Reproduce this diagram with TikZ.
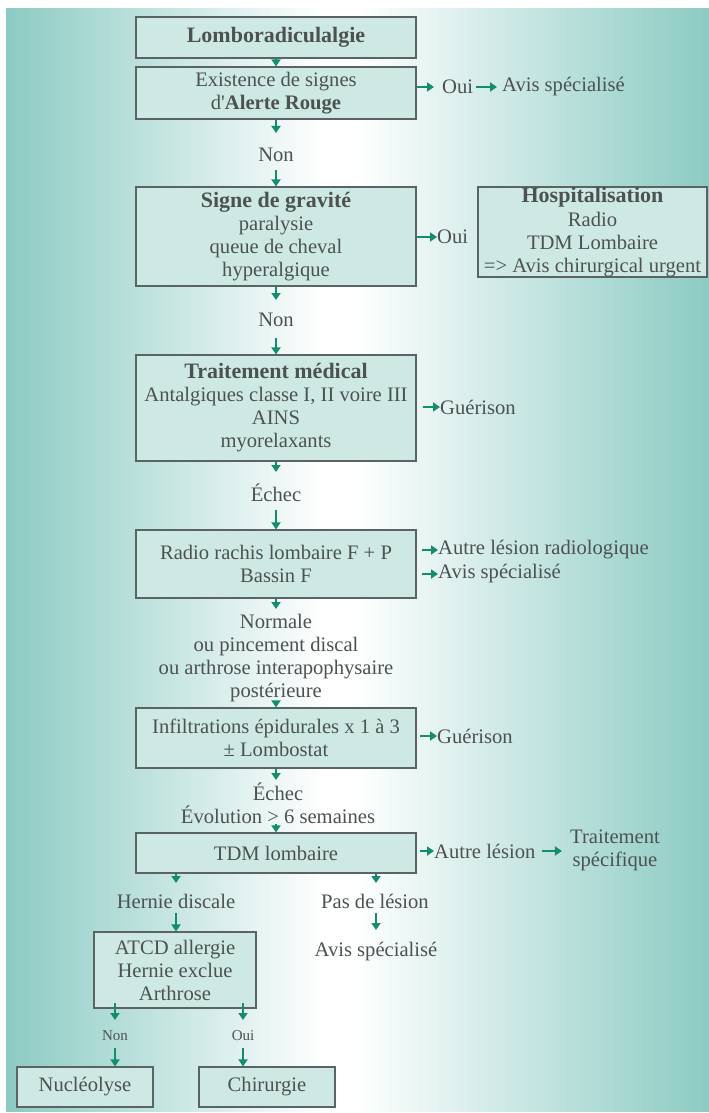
\documentclass[tikz,border=0pt]{standalone}
\usepackage{fontspec}
\setmainfont{Liberation Serif}
\usetikzlibrary{arrows.meta}
\definecolor{bgteal}{RGB}{140,203,195}
\definecolor{boxfill}{RGB}{206,233,228}
\definecolor{boxline}{RGB}{90,100,100}
\definecolor{txt}{RGB}{75,82,81}
\definecolor{arrowc}{RGB}{20,140,110}
\newcommand\bhead[1]{{\fontsize{22}{23}\selectfont\bfseries #1}}
\begin{document}
\begin{tikzpicture}[x=1pt,y=-1pt,
  box/.style={draw=boxline, line width=1.1pt, fill=boxfill, minimum width=280pt, inner sep=0pt, align=center, text=txt, font=\fontsize{20.6}{23}\selectfont},
  lbl/.style={inner sep=0pt, align=center, text=txt, font=\fontsize{20.6}{23}\selectfont},
  small/.style={lbl, font=\fontsize{15}{17}\selectfont},
  arr/.style={draw=arrowc, line width=2.2pt, -{Triangle[length=7pt,width=9pt]}}
  ]
\useasboundingbox (0,0) rectangle (709,1113);
\shade[left color=bgteal, right color=white] (6,9) rectangle (325,1111);
\fill[white] (324,9) rectangle (356,1111);
\shade[left color=white, right color=bgteal] (355,9) rectangle (709,1111);

% boxes
\node[box, minimum height=41pt] (b1) at (276,37.5) {\bhead{Lomboradiculalgie}};
\node[box, minimum height=52pt] (b2) at (276,93) {Existence de signes\\d\textquotesingle\textbf{Alerte Rouge}};
\node[box, minimum height=99pt] (b3) at (276,236.5) {\bhead{Signe de gravité}\\paralysie\\queue de cheval\\hyperalgique};
\node[box, minimum width=229pt, minimum height=90pt] (hosp) at (592.5,232) {\bhead{Hospitalisation}\\[1pt]Radio\\TDM Lombaire\\=> Avis chirurgical urgent};
\node[box, minimum height=106pt] (b4) at (276,408) {\bhead{Traitement médical}\\Antalgiques classe I, II voire III\\AINS\\myorelaxants};
\node[box, minimum height=68pt] (b5) at (276,564) {Radio rachis lombaire F + P\\Bassin F};
\node[box, minimum height=60pt] (b6) at (276,738) {Infiltrations épidurales x 1 à 3\\± Lombostat};
\node[box, minimum height=40pt] (b7) at (276,853) {TDM lombaire};
\node[box, minimum width=162pt, minimum height=76pt] (b8) at (175,970) {ATCD allergie\\Hernie exclue\\Arthrose};
\node[box, minimum width=136pt, minimum height=40pt] (b9) at (85,1087) {Nucléolyse};
\node[box, minimum width=136pt, minimum height=40pt] (b10) at (267,1087) {Chirurgie};

% labels
\node[lbl] (non1) at (276,155) {Non};
\node[lbl] (non2) at (276,320) {Non};
\node[lbl] (echec1) at (276,493) {Échec};
\node[lbl] (normale) at (276,658) {Normale\\ou pincement discal\\ou arthrose interapophysaire\\postérieure};
\node[lbl] (echec2) at (278,803) {Échec\\Évolution > 6 semaines};
\node[lbl] (hernie) at (176,901) {Hernie discale};
\node[lbl] (pas) at (375,901) {Pas de lésion};
\node[lbl] (avis3) at (376,952) {Avis spécialisé};
\node[small] (nonS) at (115,1036) {Non};
\node[small] (ouiS) at (243,1036) {Oui};

\node[lbl, anchor=west] (oui1) at (442,87) {Oui};
\node[lbl, anchor=west] (avis1) at (502,87) {Avis spécialisé};
\node[lbl, anchor=west] (oui2) at (437,237) {Oui};
\node[lbl, anchor=west] (guer1) at (440,407) {Guérison};
\node[lbl, anchor=west] (autre1) at (438,550) {Autre lésion radiologique};
\node[lbl, anchor=west] (avis2) at (438,574) {Avis spécialisé};
\node[lbl, anchor=west] (guer2) at (437,736) {Guérison};
\node[lbl, anchor=west] (autre2) at (434,851) {Autre lésion};
\node[lbl] (trait) at (615,850) {Traitement\\spécifique};

% free arrow ends
\coordinate (c2e) at (276,133);
\coordinate (c3s) at (276,170);
\coordinate (c4e) at (276,300);
\coordinate (c5s) at (276,338);
\coordinate (c6e) at (276,472);
\coordinate (c7s) at (276,510);
\coordinate (c8e) at (276,609);
\coordinate (c9s) at (276,701);
\coordinate (c10e) at (276,780);
\coordinate (c11s) at (276,824);
\coordinate (h1e) at (176,883);
\coordinate (p1e) at (376,883);
\coordinate (h2s) at (176,913);
\coordinate (p2s) at (376,913);
\coordinate (p2e) at (376,930);
\coordinate (n1s) at (115,1003);
\coordinate (n1e) at (115,1020);
\coordinate (o1s) at (243,1003);
\coordinate (o1e) at (243,1020);
\coordinate (n2s) at (115,1048);
\coordinate (o2s) at (243,1048);

% vertical arrows
\draw[arr] (b1.south) -- (b2.north);
\draw[arr] (b2.south) -- (c2e);
\draw[arr] (c3s) -- (b3.north);
\draw[arr] (b3.south) -- (c4e);
\draw[arr] (c5s) -- (b4.north);
\draw[arr] (b4.south) -- (c6e);
\draw[arr] (c7s) -- (b5.north);
\draw[arr] (b5.south) -- (c8e);
\draw[arr] (c9s) -- (b6.north);
\draw[arr] (b6.south) -- (c10e);
\draw[arr] (c11s) -- (b7.north);
\draw[arr] (h1e |- b7.south) -- (h1e);
\draw[arr] (p1e |- b7.south) -- (p1e);
\draw[arr] (h2s) -- (h2s |- b8.north);
\draw[arr] (p2s) -- (p2e);
\draw[arr] (n1s) -- (n1e);
\draw[arr] (o1s) -- (o1e);
\draw[arr] (n2s) -- (n2s |- b9.north);
\draw[arr] (o2s) -- (o2s |- b10.north);

% horizontal arrows
\draw[arr] (b2.east |- oui1.west) -- ([xshift=-8pt]oui1.west);
\draw[arr] ([xshift=3pt]oui1.east) -- ([xshift=-5pt]avis1.west);
\draw[arr] (b3.east |- oui2.west) -- (oui2.west);
\draw[arr] ([xshift=6pt]b4.east |- guer1.west) -- (guer1.west);
\draw[arr] ([xshift=5pt]b5.east |- autre1.west) -- (autre1.west);
\draw[arr] ([xshift=5pt]b5.east |- avis2.west) -- (avis2.west);
\draw[arr] ([xshift=3pt]b6.east |- guer2.west) -- (guer2.west);
\draw[arr] ([xshift=3pt]b7.east |- autre2.west) -- (autre2.west);
\draw[arr] ([xshift=6pt]autre2.east) -- ([xshift=-8pt]trait.west |- autre2.east);
\end{tikzpicture}
\end{document}
